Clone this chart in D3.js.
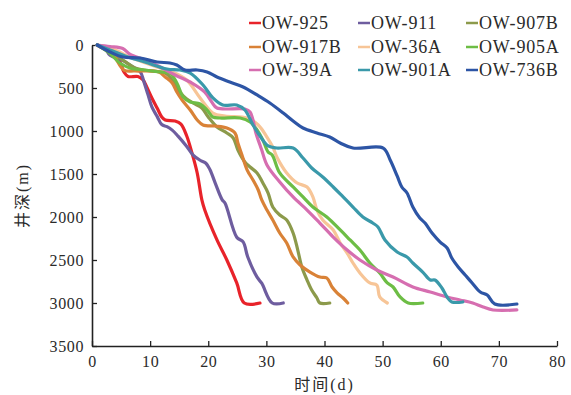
<!DOCTYPE html>
<html>
<head>
<meta charset="utf-8">
<script src="https://cdn.jsdelivr.net/npm/d3@7"></script>
<style>
  body { margin: 0; background: #fff; }
  svg text { font-family: "Liberation Serif", "Times New Roman", "DejaVu Serif", "Noto Sans CJK SC", serif; fill: #2a2a2a; }
</style>
</head>
<body>
<svg id="chart" width="571" height="395"></svg>
<script>
// well names, in legend order (row by row)
const wells = ["OW-925", "OW-911", "OW-907B", "OW-917B", "OW-36A", "OW-905A", "OW-39A", "OW-901A", "OW-736B"];
const xTicks = [0, 10, 20, 30, 40, 50, 60, 70, 80];
const yTicks = [0, 500, 1000, 1500, 2000, 2500, 3000, 3500];

// [time (d), depth (m)]
const ow925 = [[0.9,0],[1.4,23],[3.1,81],[4.5,151],[5.5,314],[6.2,366],[7.9,366],[8.8,407],[9.5,500],[10.3,616],[11.2,733],[12.0,837],[12.6,872],[14.3,884],[15.3,919],[16.3,1058],[17.2,1256],[18.1,1488],[18.9,1802],[19.4,1919],[21.5,2267],[23.2,2500],[24.9,2767],[26.2,3000],[28.9,3000]];
const ow911 = [[0.9,0],[2.2,35],[3.1,120],[5.2,175],[6.9,250],[8.3,310],[8.9,420],[9.6,570],[10.3,720],[11.2,830],[12.0,925],[12.9,950],[13.8,990],[14.8,1060],[16.3,1180],[17.4,1280],[18.6,1340],[19.6,1375],[20.3,1450],[21.2,1605],[22.4,1800],[22.9,1840],[24.9,2235],[26.0,2290],[26.8,2465],[28.4,2700],[29.2,2770],[31.0,3000],[32.9,3000]];
const ow907B = [[0.9,0],[2.2,35],[4.8,151],[7.4,267],[8.8,291],[12.6,326],[13.8,407],[15.1,547],[16.3,628],[17.7,686],[18.9,733],[20.0,837],[21.5,953],[23.2,1023],[24.3,1081],[25.1,1221],[26.3,1360],[27.2,1419],[28.4,1488],[29.4,1605],[30.3,1721],[31.1,1884],[32.3,1977],[33.5,2035],[34.6,2186],[35.4,2384],[36.1,2581],[37.0,2733],[37.8,2849],[38.7,2942],[39.2,3000],[40.9,3000]];
const ow917B = [[0.9,0],[3.4,93],[5.5,291],[7.4,302],[11.5,314],[12.6,372],[13.8,442],[14.6,547],[15.5,640],[16.9,756],[18.1,872],[19.1,930],[21.2,942],[23.2,965],[24.6,1023],[25.1,1140],[25.8,1279],[26.7,1454],[27.7,1570],[28.6,1686],[29.2,1802],[30.1,1919],[31.1,2035],[32.3,2186],[33.5,2302],[34.6,2465],[35.8,2558],[37.5,2640],[39.2,2698],[40.4,2709],[41.3,2814],[42.2,2884],[43.2,2942],[44.0,3000]];
const ow36A = [[0.9,0],[4.0,58],[6.5,140],[11.2,256],[13.9,314],[16.3,407],[18.6,616],[20.8,791],[22.9,826],[26.7,849],[28.6,930],[30.1,1070],[31.1,1186],[31.8,1302],[33.5,1488],[35.3,1605],[37.0,1651],[38.0,1767],[38.7,1919],[39.7,2035],[41.5,2151],[42.7,2302],[43.9,2419],[44.9,2535],[46.1,2651],[47.8,2767],[49.0,2791],[49.5,2930],[50.8,3000]];
const ow905A = [[0.9,0],[2.8,81],[4.8,209],[6.5,267],[9.1,291],[11.7,314],[13.4,326],[14.6,442],[15.7,605],[16.9,663],[18.6,686],[19.8,756],[20.8,837],[22.0,849],[25.5,849],[27.2,895],[28.4,988],[29.4,1105],[30.3,1244],[31.0,1279],[32.3,1488],[34.6,1651],[36.3,1767],[38.0,1884],[40.4,2000],[42.7,2151],[44.4,2267],[46.1,2384],[47.8,2535],[49.5,2651],[50.8,2767],[51.8,2814],[53.0,2930],[54.4,3000],[56.9,3000]];
const ow39A = [[0.9,0],[3.1,17],[5.3,41],[6.5,105],[9.1,174],[11.4,244],[14.3,349],[17.2,442],[19.4,547],[20.6,663],[21.5,733],[26.3,744],[27.2,779],[27.7,872],[28.2,1023],[28.9,1163],[29.2,1221],[30.1,1395],[32.3,1593],[34.6,1767],[37.0,1919],[39.2,2070],[41.5,2233],[43.9,2384],[46.1,2500],[49.0,2616],[51.8,2698],[55.2,2814],[58.2,2872],[61.1,2930],[63.3,2965],[65.5,3000],[67.3,3047],[69.0,3081],[73.1,3081]];
const ow901A = [[0.9,0],[3.1,58],[5.7,128],[9.1,198],[12.9,279],[15.1,291],[16.9,326],[19.1,465],[20.8,616],[22.5,698],[24.9,698],[26.3,756],[27.7,930],[28.9,1058],[30.3,1174],[31.8,1198],[34.6,1198],[36.3,1314],[37.8,1430],[39.7,1535],[41.5,1651],[43.2,1767],[44.9,1884],[46.6,2000],[48.3,2070],[49.2,2116],[50.4,2267],[52.5,2407],[54.2,2465],[55.2,2535],[56.9,2640],[58.2,2733],[59.0,2733],[60.2,2826],[61.2,2942],[61.9,2988],[63.8,2988]];
const ow736B = [[0.9,0],[3.1,81],[5.3,140],[8.3,151],[11.2,198],[13.4,209],[14.6,233],[16.0,291],[18.1,291],[19.8,314],[21.5,372],[23.7,430],[26.0,488],[28.4,581],[30.6,674],[32.9,791],[34.6,884],[36.3,965],[38.7,1023],[40.9,1070],[42.7,1140],[44.9,1198],[50.1,1198],[51.3,1337],[52.5,1523],[53.3,1651],[54.2,1721],[55.2,1884],[56.4,2012],[57.3,2070],[58.5,2186],[59.9,2291],[61.1,2360],[61.9,2477],[63.0,2581],[64.2,2674],[65.4,2767],[66.8,2872],[68.0,2907],[69.3,3012],[73.1,3012]];

const seriesData = [ow925, ow911, ow907B, ow917B, ow36A, ow905A, ow39A, ow901A, ow736B];
const colors = ["#e8232a", "#6e5d9f", "#8c9a4b", "#d98237", "#f7c597", "#6dbd45", "#d66eb0", "#3a99aa", "#2d55a5"];

const svg = d3.select("#chart");
const plotLeft = 92, plotRight = 557, plotTop = 45, plotBottom = 346;
const serif = "'Liberation Serif', 'Times New Roman', 'DejaVu Serif', serif";

const x = d3.scaleLinear().domain([0, 80]).range([plotLeft, plotRight]);
const y = d3.scaleLinear().domain([0, 3500]).range([plotTop, plotBottom]);

// axes, ticks pointing inward
const xAxis = svg.append("g")
  .attr("transform", "translate(0," + plotBottom + ")")
  .call(d3.axisBottom(x).tickValues(xTicks).tickFormat(d3.format("d"))
    .tickSize(-5).tickSizeOuter(0).tickPadding(10));
const yAxis = svg.append("g")
  .attr("transform", "translate(" + plotLeft + ",0)")
  .call(d3.axisLeft(y).tickValues(yTicks).tickFormat(d3.format("d"))
    .tickSize(-5).tickSizeOuter(0).tickPadding(8));

[xAxis, yAxis].forEach(g => {
  g.attr("font-family", serif).attr("font-size", 16);
  g.select(".domain").attr("stroke", "#222").attr("stroke-width", 1.6);
  g.selectAll(".tick line").attr("stroke", "#222").attr("stroke-width", 1.3);
  g.selectAll(".tick text")
    .style("font-family", serif)
    .style("font-size", "16px")
    .style("letter-spacing", "0.6px")
    .attr("fill", "#2a2a2a");
});

// curves
const line = d3.line()
  .x(d => x(d[0]))
  .y(d => y(d[1]))
  .curve(d3.curveCatmullRom.alpha(0.5));

svg.append("g").selectAll("path")
  .data(seriesData)
  .enter()
  .append("path")
  .attr("d", line)
  .attr("fill", "none")
  .attr("stroke", (d, i) => colors[i])
  .attr("stroke-width", 3.2)
  .attr("stroke-linejoin", "round")
  .attr("stroke-linecap", "round");

// legend, 3 x 3
const legCols = [249, 358, 466];
const legRows = [23, 47, 70];
const legend = svg.append("g").selectAll("g")
  .data(wells)
  .enter()
  .append("g")
  .attr("transform", (d, i) => "translate(" + legCols[i % 3] + "," + legRows[Math.floor(i / 3)] + ")");
legend.append("line")
  .attr("x1", 0).attr("x2", 12)
  .attr("stroke", (d, i) => colors[i])
  .attr("stroke-width", 2.5);
legend.append("text")
  .attr("x", 13)
  .attr("dy", "0.35em")
  .style("font-family", serif)
  .style("font-size", "18px")
  .style("letter-spacing", "0.8px")
  .text(d => d);

// axis titles
svg.append("text")
  .attr("x", (plotLeft + plotRight) / 2)
  .attr("y", 390)
  .attr("text-anchor", "middle")
  .style("font-size", "16px")
  .style("letter-spacing", "2px")
  .text("时间(d)");
svg.append("text")
  .attr("transform", "translate(22," + ((plotTop + plotBottom) / 2) + ") rotate(-90)")
  .attr("text-anchor", "middle")
  .attr("dy", "0.35em")
  .style("font-size", "16px")
  .style("letter-spacing", "2px")
  .text("井深(m)");
</script>
</body>
</html>
